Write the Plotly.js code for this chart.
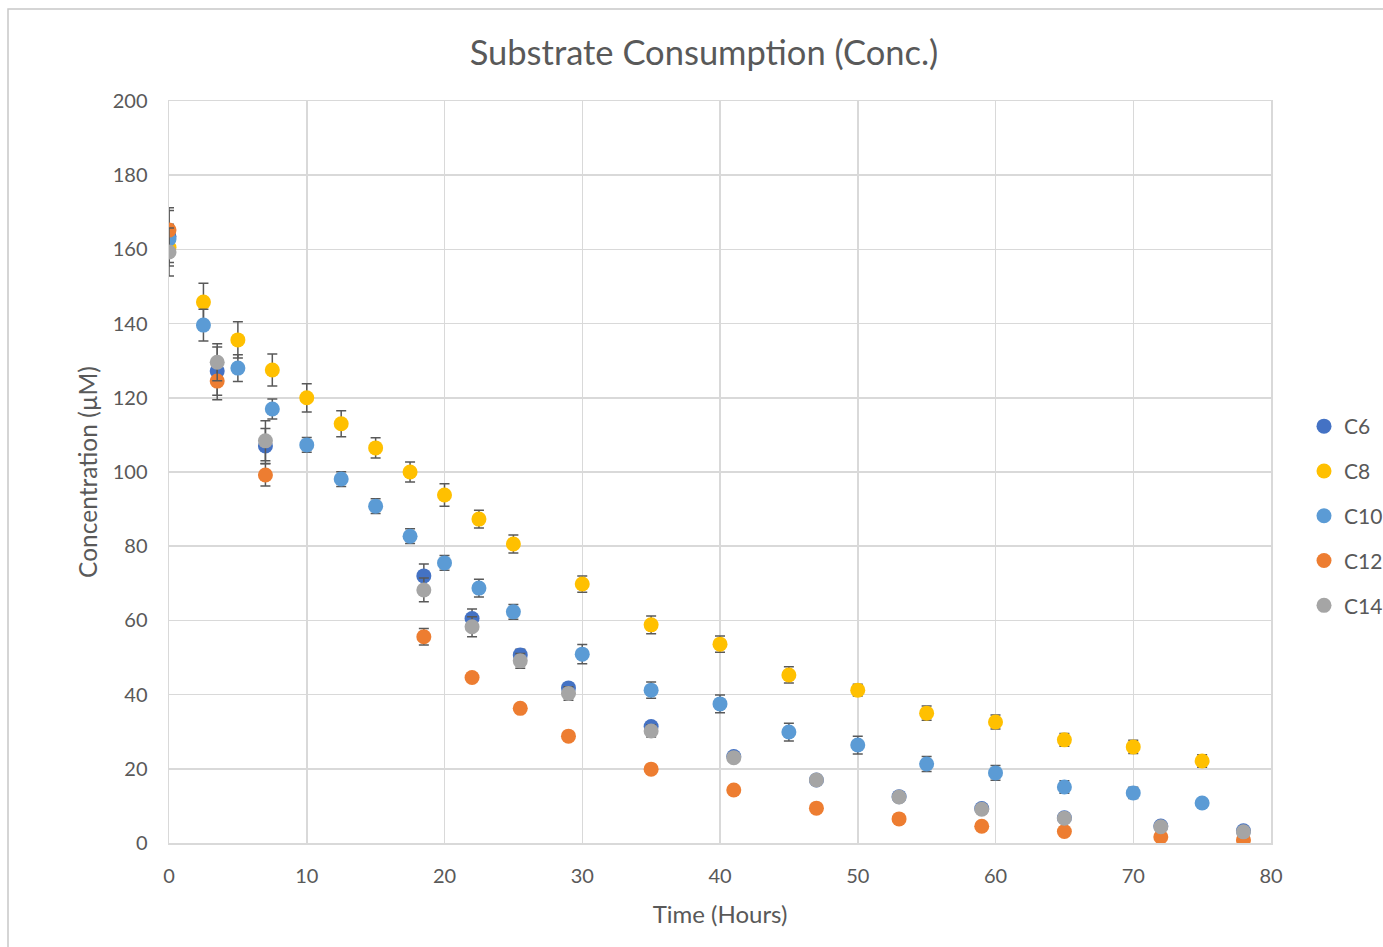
<!DOCTYPE html>
<html>
<head>
<meta charset="utf-8">
<script src="https://cdn.plot.ly/plotly-3.0.1.min.js"></script>
<style>
  html, body { margin: 0; padding: 0; background: #ffffff; }
  #chart { width: 1383px; height: 947px; }
</style>
</head>
<body>
<div id="chart"></div>
<script>
// Time points (hours)
const timeA = [0, 3.5, 7, 18.5, 22, 25.5, 29, 35, 41, 47, 53, 59, 65, 72, 78];
const timeB = [0, 2.5, 5, 7.5, 10, 12.5, 15, 17.5, 20, 22.5, 25, 30, 35, 40, 45, 50, 55, 60, 65, 70, 75];

// Series values (µM)
const c6  = [163.5, 127.2, 107.0, 72.0, 60.5, 50.7, 41.8, 31.4, 23.3, 17.0, 12.5, 9.3, 6.8, 4.6, 3.3];
const c6Err = [7.0, 6.5, 4.7, 3.2, 2.6, 1.5, 1.2, 1.2, 1.0, 0.8, 0.6, 0.5, 0.5, 0.4, 0.3];

const c8  = [160.5, 145.8, 135.6, 127.5, 120.0, 113.0, 106.5, 100.0, 93.8, 87.3, 80.6, 69.8, 58.8, 53.6, 45.3, 41.2, 35.0, 32.6, 27.8, 25.9, 22.1];
const c8Err = [5.0, 5.1, 4.9, 4.3, 3.8, 3.5, 2.7, 2.7, 3.0, 2.4, 2.4, 2.2, 2.4, 2.2, 2.2, 1.6, 1.9, 1.9, 1.7, 1.8, 1.7];

const c10 = [162.8, 139.6, 128.0, 117.0, 107.3, 98.1, 90.8, 82.7, 75.5, 68.7, 62.3, 50.9, 41.2, 37.5, 29.9, 26.4, 21.3, 18.9, 15.1, 13.5, 10.8];
const c10Err = [4.0, 4.3, 3.6, 2.7, 2.0, 2.0, 2.0, 2.0, 2.0, 2.4, 2.0, 2.6, 2.2, 2.4, 2.4, 2.4, 2.0, 2.0, 1.7, 1.5, 0.5];

const c12 = [165.2, 124.5, 99.2, 55.6, 44.6, 36.3, 28.8, 19.9, 14.3, 9.4, 6.5, 4.5, 3.1, 1.6, 0.8];
const c12Err = [6.0, 5.0, 3.0, 2.2, 1.0, 0.8, 0.6, 0.5, 0.5, 0.4, 0.3, 0.3, 0.2, 0.2, 0.2];

const c14 = [159.3, 129.6, 108.4, 68.2, 58.3, 49.1, 40.3, 30.2, 23.0, 17.0, 12.4, 9.1, 6.7, 4.4, 3.0];
const c14Err = [6.5, 5.0, 5.4, 3.2, 2.7, 2.0, 1.8, 1.6, 1.2, 0.8, 0.6, 0.5, 0.5, 0.4, 0.3];

const seriesNames = ['C6', 'C8', 'C10', 'C12', 'C14'];
const seriesColors = ['#4472C4', '#FFC000', '#5B9BD5', '#ED7D31', '#A5A5A5'];

const seriesX = [timeA, timeB, timeB, timeA, timeA];
const seriesY = [c6, c8, c10, c12, c14];
const seriesE = [c6Err, c8Err, c10Err, c12Err, c14Err];

const FONT = 'Lato, "Open Sans", "Noto Sans", sans-serif';
const TXT = '#595959';

const traces = seriesNames.map((name, i) => ({
  type: 'scatter',
  mode: 'markers',
  name: name,
  legendgroup: name,
  x: seriesX[i],
  y: seriesY[i],
  marker: { color: seriesColors[i], size: 15, line: { width: 0 } },
  error_y: {
    type: 'data',
    array: seriesE[i],
    visible: true,
    color: '#595959',
    thickness: 1.5,
    width: 5
  },
  hoverinfo: 'x+y+name'
}));

const layout = {
  width: 1383,
  height: 947,
  paper_bgcolor: '#ffffff',
  plot_bgcolor: '#ffffff',
  margin: { l: 169, r: 112, t: 101, b: 104, autoexpand: false },
  font: { family: FONT, color: TXT, size: 20 },
  title: {
    text: 'Substrate Consumption (Conc.)',
    font: { family: FONT, size: 34.5, color: TXT },
    x: 704 / 1383,
    xanchor: 'center',
    xref: 'container',
    y: 1 - 53 / 947,
    yanchor: 'middle',
    yref: 'container'
  },
  xaxis: {
    range: [0, 80],
    dtick: 10,
    tick0: 0,
    showgrid: true,
    gridcolor: '#d9d9d9',
    gridwidth: 1.5,
    zeroline: false,
    showline: true,
    mirror: true,
    linecolor: '#d9d9d9',
    linewidth: 1.5,
    ticks: '',
    ticklabelstandoff: 14,
    tickfont: { family: FONT, size: 20, color: TXT },
    title: { text: 'Time (Hours)', font: { family: FONT, size: 24, color: TXT }, standoff: 20 },
    automargin: false,
    fixedrange: true
  },
  yaxis: {
    range: [0, 200],
    dtick: 20,
    tick0: 0,
    showgrid: true,
    gridcolor: '#d9d9d9',
    gridwidth: 1.5,
    zeroline: false,
    showline: true,
    mirror: true,
    linecolor: '#d9d9d9',
    linewidth: 1.5,
    ticks: '',
    ticklabelstandoff: 16,
    tickfont: { family: FONT, size: 20, color: TXT },
    title: { text: 'Concentration (µM)', font: { family: FONT, size: 24.5, color: TXT }, standoff: 8 },
    automargin: false,
    fixedrange: true
  },
  showlegend: true,
  legend: {
    xref: 'container',
    yref: 'container',
    x: 1304 / 1383,
    xanchor: 'left',
    y: 1 - 516 / 947,
    yanchor: 'middle',
    traceorder: 'grouped',
    tracegroupgap: 14.5,
    itemwidth: 30,
    font: { family: FONT, size: 21, color: TXT },
    bgcolor: 'rgba(0,0,0,0)'
  },
  shapes: [{
    type: 'rect',
    xref: 'paper', yref: 'paper',
    x0: (8 - 169) / 1102, x1: (1420 - 169) / 1102,
    y0: (843 - 990) / 742, y1: (843 - 9) / 742,
    line: { color: '#c8c8c8', width: 1.5 },
    fillcolor: 'rgba(0,0,0,0)',
    layer: 'below'
  }]
};

Plotly.newPlot('chart', traces, layout, { displayModeBar: false, staticPlot: true });
</script>
</body>
</html>
